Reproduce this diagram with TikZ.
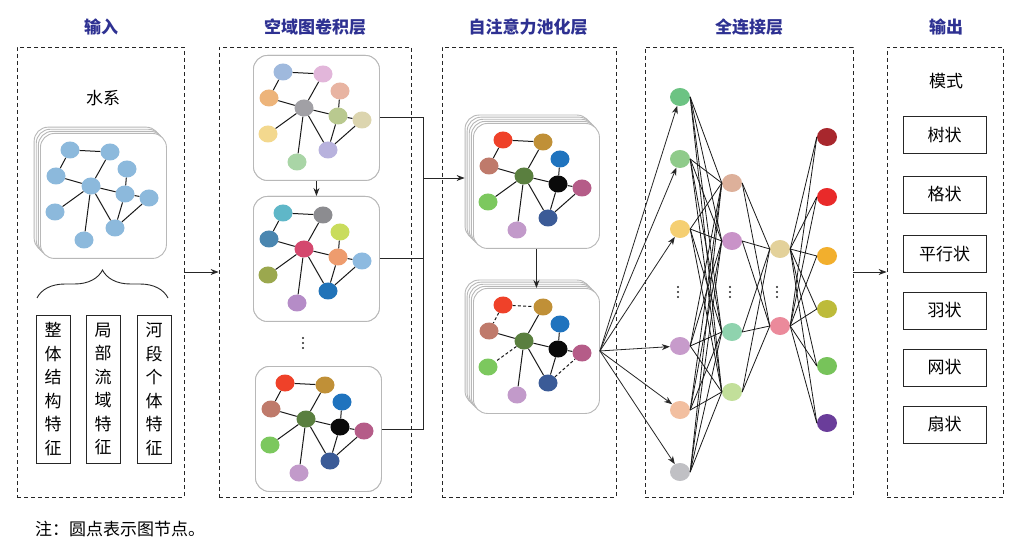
\documentclass[tikz,border=0pt]{standalone}
\usepackage{fontspec}
\newfontfamily\cjk{Noto Sans CJK SC}
\usetikzlibrary{arrows.meta,shapes.geometric,decorations.pathreplacing,calc}
\definecolor{titleblue}{HTML}{2E3192}
% input card colours
\foreach \n in {A,B,C,D,E,F,G,H,I,J}{\xglobal\definecolor{in\n}{HTML}{8CB9DC}}
% spatial card 1
\definecolor{saA}{HTML}{9FB9DD}\definecolor{saB}{HTML}{E2B6DA}\definecolor{saC}{HTML}{EDB47A}
\definecolor{saD}{HTML}{E8B4A2}\definecolor{saE}{HTML}{A1A0A5}\definecolor{saF}{HTML}{B9C98F}
\definecolor{saG}{HTML}{DCD5AF}\definecolor{saH}{HTML}{F3D88E}\definecolor{saI}{HTML}{B8B2DD}
\definecolor{saJ}{HTML}{A9D5A6}
% spatial card 2
\definecolor{sbA}{HTML}{5FB7C8}\definecolor{sbB}{HTML}{8C8C90}\definecolor{sbC}{HTML}{4A86B0}
\definecolor{sbD}{HTML}{C9DC5C}\definecolor{sbE}{HTML}{D4486E}\definecolor{sbF}{HTML}{EE9C6E}
\definecolor{sbG}{HTML}{8DBAE0}\definecolor{sbH}{HTML}{9BA84E}\definecolor{sbI}{HTML}{2173B8}
\definecolor{sbJ}{HTML}{B58CC7}
% attention colours
\definecolor{scA}{HTML}{EF4129}\definecolor{scB}{HTML}{C09037}\definecolor{scC}{HTML}{BF7A6B}
\definecolor{scD}{HTML}{1F73BE}\definecolor{scE}{HTML}{5A7F3F}\definecolor{scF}{HTML}{0A0A0A}
\definecolor{scG}{HTML}{B55C88}\definecolor{scH}{HTML}{7CC85E}\definecolor{scI}{HTML}{3B5B97}
\definecolor{scJ}{HTML}{C29ACA}
\def\gpos{A/30/17,B/70/19,C/16/43,D/87/36,E/51/53,F/85/61,G/109/65,H/15/79,I/75/95,J/44/107}
\def\gedges{A/B/solid,A/C/solid,B/E/solid,C/E/solid,E/F/solid,D/F/solid,F/G/solid,E/H/solid,E/J/solid,E/I/solid,F/I/solid,I/G/solid}
\def\gedgesd{A/B/gdash,A/C/gdash,B/E/solid,C/E/solid,E/F/solid,D/F/solid,F/G/solid,E/H/gdash,E/J/solid,E/I/solid,F/I/solid,I/G/gdash}
% #1 name, #2 x, #3 y, #4 colour prefix, #5 edge list macro, #6 layer list
\newcommand\gcard[6]{%
  \foreach \k in {#6}{\node[card,anchor=north west] (#1L\k) at ({#2-2.1*\k},{#3-2.1*\k}) {};}
  \node[card,anchor=north west] (#1) at (#2,#3) {};
  \foreach \n/\px/\py in \gpos {\node[gnode,fill=#4\n] (#1\n) at ({#2+\px},{#3+\py}) {};}
  \foreach \a/\b/\s in #5 {\draw[gedge,\s] (#1\a) -- (#1\b);}
}
% vertical ellipsis drawn as three dots
\newcommand\vdotsat[2]{\foreach \d in {-5,0,5}{\fill[black!85] (#1,{#2+\d}) circle[radius=1.15pt];}}
\newcommand\bodyfont{\cjk\fontsize{17}{20}\selectfont}
\begin{document}
\begin{tikzpicture}[x=1pt,y=-1pt,
  panel/.style={draw=black!85,line width=0.8pt,dash pattern=on 4pt off 3pt,minimum height=450pt,inner sep=0pt},
  ttl/.style={font=\cjk\bfseries\fontsize{17}{20}\selectfont,text=titleblue},
  card/.style={draw=black!28,line width=0.9pt,fill=white,rounded corners=14pt,minimum width=126pt,minimum height=125pt,inner sep=0pt},
  gnode/.style={ellipse,minimum width=19pt,minimum height=17pt,inner sep=0pt},
  gedge/.style={line width=1pt,draw=black!90},
  gdash/.style={dash pattern=on 3pt off 2.2pt},
  conn/.style={line width=0.9pt,draw=black!85},
  arr/.style={conn,-{Stealth[length=8pt,width=6pt]}},
  fnode/.style={ellipse,minimum width=20pt,minimum height=18pt,inner sep=0pt},
  fedge/.style={line width=0.8pt,draw=black!90},
  vbox/.style={draw=black!85,line width=0.9pt,minimum width=34pt,minimum height=148pt,inner sep=0pt,align=center,font=\cjk\fontsize{17}{23.5}\selectfont},
  obox/.style={draw=black!85,line width=0.9pt,minimum width=83pt,minimum height=37pt,inner sep=0pt,font=\bodyfont},
  txt/.style={font=\bodyfont,inner sep=0pt}
]
\useasboundingbox (0,0) rectangle (1028,553);
\fill[white] (0,0) rectangle (1028,553);
% panels
\node[panel,minimum width=167pt] (pin) at (100.5,272) {};
\node[panel,minimum width=192pt] (psp) at (315,272) {};
\node[panel,minimum width=174pt] (pat) at (529,272) {};
\node[panel,minimum width=208pt] (pfc) at (749,272) {};
\node[panel,minimum width=116pt] (pout) at (945,272) {};
% titles
\node[ttl] (t1) at (101,27) {输入};
\node[ttl] (t2) at (315,27) {空域图卷积层};
\node[ttl] (t3) at (528,27) {自注意力池化层};
\node[ttl] (t4) at (749,27) {全连接层};
\node[ttl] (t5) at (946,27) {输出};
% input panel
\node[txt] (water) at (103,98) {水系};
\gcard{in}{40}{133}{in}{\gedges}{3,2,1}
\draw[decorate,decoration={brace,amplitude=28pt},line width=0.9pt,draw=black!85] (37,298) -- (168,298);
\node[vbox] (f1) at (53,389) {整\\体\\结\\构\\特\\征};
\node[vbox] (f2) at (103,389) {局\\部\\流\\域\\特\\征};
\node[vbox] (f3) at (154,389) {河\\段\\个\\体\\特\\征};
\node[txt,anchor=west] (note) at (35,529) {注：圆点表示图节点。};
% spatial panel
\gcard{sa}{253}{55}{sa}{\gedges}{0}
\gcard{sb}{253}{196}{sb}{\gedges}{0}
\gcard{sc}{255}{366}{sc}{\gedges}{0}
\vdotsat{303}{343}
\draw[arr] (sa.south) -- (sb.north);
% attention panel
\gcard{aa}{473}{123}{sc}{\gedges}{4,3,2,1}
\gcard{ab}{473}{288}{sc}{\gedgesd}{4,3,2,1}
\draw[arr] (aa.south) -- (ab.north);
% bus from spatial to attention
\coordinate (bus) at (423,178);
\draw[conn] (sa.east) -| (bus);
\draw[conn] (sc.east) -| (bus);
\draw[conn] (sb.east) -- (sb.east -| bus);
\draw[arr] (bus) -- (bus -| aaL4.west);
% panel arrows
\draw[arr] (pin.east) -- (psp.west);
\draw[arr] (pfc.east) -- (pout.west);
% fully connected
\definecolor{cp1}{HTML}{6CC383}\definecolor{cp2}{HTML}{8FCB8A}\definecolor{cp3}{HTML}{F5CF72}
\definecolor{cp4}{HTML}{C79BCB}\definecolor{cp5}{HTML}{F2BFA0}\definecolor{cp6}{HTML}{C0C0C4}
\definecolor{cq1}{HTML}{DDB09A}\definecolor{cq2}{HTML}{C993C8}\definecolor{cq3}{HTML}{8FD3AE}
\definecolor{cq4}{HTML}{C2DF9A}
\definecolor{cr1}{HTML}{E3D19A}\definecolor{cr2}{HTML}{EB8A9B}
\definecolor{co1}{HTML}{A8272D}\definecolor{co2}{HTML}{E92A2A}\definecolor{co3}{HTML}{F2AF2D}
\definecolor{co4}{HTML}{BDBB3A}\definecolor{co5}{HTML}{77C35A}\definecolor{co6}{HTML}{6A3D9A}
\foreach \i/\yy in {1/97,2/159,3/229,4/346,5/410,6/472} {\node[fnode,fill=cp\i] (p\i) at (680,\yy) {};}
\foreach \i/\yy in {1/183,2/241,3/332,4/392} {\node[fnode,fill=cq\i] (q\i) at (732,\yy) {};}
\foreach \i/\yy in {1/249,2/326} {\node[fnode,fill=cr\i] (r\i) at (780,\yy) {};}
\foreach \i/\yy in {1/137,2/197,3/256,4/309,5/366,6/423} {\node[fnode,fill=co\i] (o\i) at (827,\yy) {};}
\vdotsat{678}{292}
\vdotsat{730}{292}
\vdotsat{777}{292}
\foreach \i in {1,...,6}{\foreach \j in {1,...,4}{\draw[fedge] (p\i.east) -- (q\j.west);}}
\foreach \i in {1,...,4}{\foreach \j in {1,2}{\draw[fedge] (q\i.east) -- (r\j.west);}}
\foreach \i in {1,2}{\foreach \j in {1,...,6}{\draw[fedge] (r\i.east) -- (o\j.west);}}
\foreach \i in {1,...,6}{\draw[arr,line width=0.8pt] (ab.east) -- (p\i);}
% output panel
\node[txt] (mode) at (946,81) {模式};
\node[obox] (o_a) at (944.5,135) {树状};
\node[obox] (o_b) at (944.5,194.5) {格状};
\node[obox] (o_c) at (944.5,254) {平行状};
\node[obox] (o_d) at (944.5,310.5) {羽状};
\node[obox] (o_e) at (944.5,367.5) {网状};
\node[obox] (o_f) at (944.5,424.5) {扇状};
\end{tikzpicture}
\end{document}
